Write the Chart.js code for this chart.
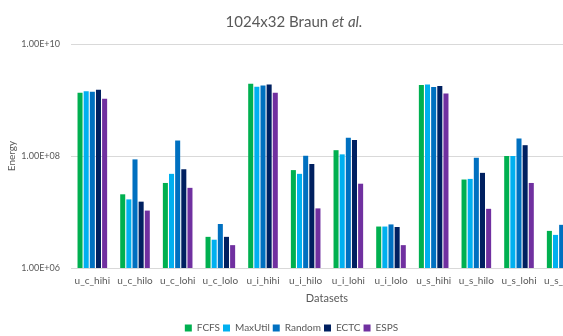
<!DOCTYPE html>
<html>
<head>
<meta charset="utf-8">
<script src="https://cdn.jsdelivr.net/npm/chart.js@4.4.0/dist/chart.umd.min.js"></script>
<style>
  html, body { margin: 0; padding: 0; background: #ffffff; overflow: hidden; width: 563px; height: 336px; }
  canvas { display: block; }
</style>
</head>
<body>
<canvas id="chart" width="588" height="336"></canvas>
<script>
// Datasets (workload types) on the x axis
const categories = ['u_c_hihi', 'u_c_hilo', 'u_c_lohi', 'u_c_lolo',
                    'u_i_hihi', 'u_i_hilo', 'u_i_lohi', 'u_i_lolo',
                    'u_s_hihi', 'u_s_hilo', 'u_s_lohi', 'u_s_lolo'];

// Energy per scheduling heuristic
const fcfs    = [1.35e9, 2.07e7, 3.3e7, 3.6e6, 1.96e9, 5.6e7, 1.27e8, 5.5e6, 1.85e9, 3.8e7, 1.0e8, 4.6e6];
const maxUtil = [1.44e9, 1.68e7, 4.8e7, 3.2e6, 1.73e9, 4.8e7, 1.07e8, 5.5e6, 1.90e9, 3.9e7, 1.0e8, 3.9e6];
const random  = [1.41e9, 8.7e7, 1.89e8, 6.1e6, 1.82e9, 1.01e8, 2.11e8, 6.0e6, 1.70e9, 9.3e7, 2.05e8, 5.9e6];
const ectc    = [1.53e9, 1.53e7, 5.8e7, 3.6e6, 1.90e9, 7.2e7, 1.94e8, 5.4e6, 1.77e9, 5.0e7, 1.56e8, 4.5e6];
const esps    = [1.05e9, 1.06e7, 2.7e7, 2.56e6, 1.35e9, 1.16e7, 3.2e7, 2.56e6, 1.31e9, 1.14e7, 3.3e7, 2.5e6];

// Y axis tick values
const yTicks = [1e6, 1e8, 1e10];

const seriesNames = ['FCFS', 'MaxUtil', 'Random', 'ECTC', 'ESPS'];
const seriesValues = [fcfs, maxUtil, random, ectc, esps];
const seriesColors = ['#00B050', '#00B0F0', '#0070C0', '#002060', '#7030A0'];

const textGray = '#595959';
const gridGray = '#d9d9d9';
const fontFamily = 'Lato, "Open Sans", sans-serif';

// Format like 1.00E+08
function sci(v) {
  const exp = Math.round(Math.log10(v));
  const mant = v / Math.pow(10, exp);
  const sign = exp < 0 ? '-' : '+';
  const e = String(Math.abs(exp)).padStart(2, '0');
  return mant.toFixed(2) + 'E' + sign + e;
}

// Title with an italic "et al." part
const mixedTitle = {
  id: 'mixedTitle',
  afterDraw(chart) {
    const ctx = chart.ctx;
    const parts = [
      { text: '1024x32 Braun ', font: '15px ' + fontFamily },
      { text: 'et al.', font: 'italic 15px ' + fontFamily }
    ];
    ctx.save();
    let total = 0;
    parts.forEach(p => { ctx.font = p.font; p.w = ctx.measureText(p.text).width; total += p.w; });
    let x = chart.width / 2 - total / 2;
    ctx.fillStyle = textGray;
    ctx.textBaseline = 'middle';
    ctx.textAlign = 'left';
    parts.forEach(p => { ctx.font = p.font; ctx.fillText(p.text, x, 22); x += p.w; });
    ctx.restore();
  }
};

function draw() {
  new Chart(document.getElementById('chart'), {
    type: 'bar',
    data: {
      labels: categories,
      datasets: seriesNames.map((name, i) => ({
        label: name,
        data: seriesValues[i],
        backgroundColor: seriesColors[i],
        borderWidth: 0,
        categoryPercentage: 0.72,
        barPercentage: 0.82
      }))
    },
    options: {
      responsive: false,
      animation: false,
      devicePixelRatio: 1,
      layout: { padding: { top: 44, right: 5, left: 0, bottom: -7 } },
      plugins: {
        title: { display: false },
        tooltip: { enabled: false },
        legend: {
          position: 'bottom',
          labels: {
            color: textGray,
            font: { family: fontFamily, size: 10 },
            boxWidth: 7,
            boxHeight: 7,
            padding: 3
          }
        }
      },
      scales: {
        x: {
          afterFit(scale) {
            scale.height = 52;
          },
          grid: { display: false, drawTicks: false },
          border: { display: true, color: gridGray, width: 1 },
          ticks: {
            color: textGray,
            font: { family: fontFamily, size: 10 },
            padding: 7,
            maxRotation: 0,
            autoSkip: false
          },
          title: {
            display: true,
            text: 'Datasets',
            color: textGray,
            font: { family: fontFamily, size: 11 },
            padding: { top: 4, bottom: 15 }
          }
        },
        y: {
          type: 'logarithmic',
          min: 1e6,
          max: 1e10,
          afterBuildTicks(scale) {
            scale.ticks = yTicks.map(v => ({ value: v }));
          },
          afterFit(scale) {
            scale.width = 71;
          },
          grid: { color: gridGray, lineWidth: 1, drawTicks: false },
          border: { display: false },
          ticks: {
            color: textGray,
            font: { family: fontFamily, size: 9 },
            padding: 11,
            callback: (v) => sci(v)
          },
          title: {
            display: true,
            text: 'Energy',
            color: textGray,
            font: { family: fontFamily, size: 10 },
            padding: { top: 6, bottom: 4 }
          }
        }
      }
    },
    plugins: [mixedTitle]
  });
}

const fontLoads = ['15px Lato', 'italic 15px Lato', '10px Lato', '9px Lato', '11px Lato']
  .map(f => document.fonts ? document.fonts.load(f).catch(() => null) : Promise.resolve());
Promise.all(fontLoads).then(draw, draw);
</script>
</body>
</html>
